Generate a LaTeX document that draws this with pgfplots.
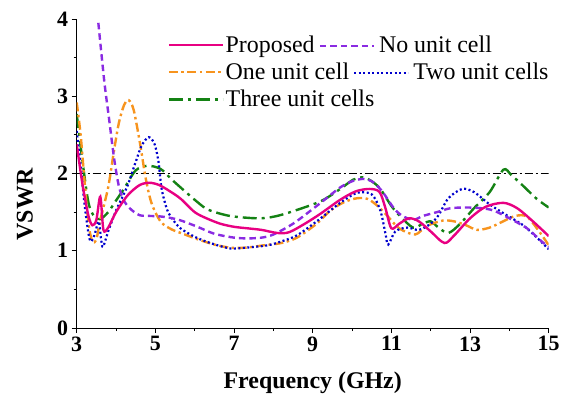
\documentclass[border=0pt]{standalone}
\usepackage{fontspec}
\setmainfont{Liberation Serif}
\usepackage{pgfplots}
\pgfplotsset{compat=1.18}

\definecolor{cProp}{RGB}{232,0,130}
\definecolor{cNone}{RGB}{138,43,226}
\definecolor{cOne}{RGB}{247,148,30}
\definecolor{cTwo}{RGB}{0,0,205}
\definecolor{cThree}{RGB}{20,130,20}

\tikzset{
  sProp/.style={cProp, line width=2.4bp, solid},
  sNone/.style={cNone, line width=2.4bp, dash pattern=on 6.5bp off 4bp},
  sOne/.style={cOne, line width=2.4bp, dash pattern=on 9bp off 3.5bp on 2.5bp off 3.5bp},
  sTwo/.style={cTwo, line width=2.2bp, dash pattern=on 2bp off 2.5bp},
  sThree/.style={cThree, line width=2.4bp, dash pattern=on 14bp off 5bp on 3bp off 5bp},
}
% inline legend sample for the second column
\newcommand{\samp}[1]{\tikz[baseline=-0.6ex]\draw[#1] (0,0) -- (54bp,0);}

\begin{document}
\begin{tikzpicture}
\begin{axis}[
  at={(0,0)}, anchor=south west,
  scale only axis, width=472bp, height=309bp,
  xmin=3, xmax=15, ymin=0, ymax=4,
  axis lines*=left,
  axis line style={line width=0.8bp},
  xtick={3,5,...,15}, minor x tick num=1,
  ytick={0,1,2,3,4}, minor y tick num=1,
  tick align=outside,
  major tick length=5bp, minor tick length=3bp,
  tick style={line width=0.8bp, black},
  /pgf/number format/assume math mode=true,
  ticklabel style={font=\fontsize{22}{24}\selectfont\bfseries},
  xlabel={Frequency (GHz)},
  ylabel={VSWR},
  label style={font=\fontsize{24}{28}\selectfont\bfseries},
  xlabel style={at={(axis description cs:0.5,-0.178)}, anchor=center},
  ylabel style={at={(axis description cs:-0.11,0.40)}, anchor=center, rotate=0},
  clip=true,
  legend image code/.code={\draw[#1] (0,0) -- (54bp,0);},
  legend cell align=left,
  legend style={draw=none, fill=none, at={(axis cs:5.31,3.80)}, anchor=north west,
    font=\fontsize{24}{27}\selectfont, inner sep=0pt, row sep=6bp,
    nodes={inner sep=1.5bp}},
]

% VSWR = 2 reference
\addplot[black, line width=1.1bp, dash pattern=on 8bp off 3bp on 2bp off 3bp, forget plot]
  coordinates {(3,2) (15,2)};

\addplot[sThree, smooth, tension=0.5, forget plot] coordinates {
(3,2.77) (3.15,2.15) (3.3,1.62) (3.45,1.44) (3.6,1.41) (3.8,1.50) (4.0,1.65) (4.2,1.80)
(4.5,2.04) (4.8,2.10) (5.13,2.06) (5.4,1.93) (5.64,1.82) (6.07,1.63) (6.35,1.53) (6.9,1.45)
(7.6,1.42) (8.0,1.44) (8.43,1.50) (9.2,1.64) (9.7,1.80) (10.03,1.92) (10.28,1.95) (10.5,1.90)
(10.72,1.80) (11.0,1.58) (11.22,1.45) (11.55,1.30) (11.8,1.35) (12.0,1.38) (12.2,1.30)
(12.45,1.23) (12.75,1.35) (13.1,1.55) (13.5,1.76) (13.85,2.05) (14.05,1.98) (14.35,1.84)
(14.7,1.67) (15,1.56)};

\addplot[sOne, smooth, tension=0.5, forget plot] coordinates {
(3,2.92) (3.1,2.5) (3.2,1.9) (3.3,1.35) (3.4,1.12) (3.5,1.15) (3.6,1.40) (3.8,1.82)
(3.95,2.3) (4.07,2.65) (4.2,2.88) (4.32,2.95) (4.45,2.82) (4.62,2.36) (4.75,1.95) (4.9,1.62)
(5.13,1.38) (5.4,1.28) (5.7,1.22) (6.07,1.15) (6.5,1.08) (6.9,1.04) (7.3,1.04) (7.75,1.07)
(8.2,1.10) (8.6,1.17) (9.1,1.35) (9.45,1.52) (9.8,1.63) (10.13,1.68) (10.4,1.67) (10.65,1.58)
(10.9,1.45) (11.2,1.29) (11.6,1.21) (11.9,1.32) (12.3,1.39) (12.6,1.38) (12.9,1.33)
(13.18,1.27) (13.5,1.30) (13.8,1.37) (14.15,1.45) (14.45,1.44) (14.8,1.22) (15,1.07)};

\addplot[sTwo, smooth, tension=0.5, forget plot] coordinates {
(3,2.55) (3.1,2.1) (3.2,1.6) (3.3,1.22) (3.36,1.12) (3.45,1.20) (3.56,1.38) (3.62,1.15)
(3.67,1.05) (3.8,1.25) (4.0,1.52) (4.29,1.84) (4.5,2.15) (4.65,2.36) (4.83,2.47) (4.98,2.38)
(5.08,2.15) (5.16,1.80) (5.3,1.53) (5.45,1.40) (5.64,1.29) (6.0,1.18) (6.4,1.10) (6.9,1.03)
(7.3,1.04) (7.85,1.07) (8.2,1.12) (8.6,1.20) (9.1,1.38) (9.7,1.62) (10.13,1.75) (10.5,1.73)
(10.72,1.52) (10.85,1.22) (10.92,1.08) (11.1,1.25) (11.4,1.30) (11.7,1.27) (12.0,1.35)
(12.2,1.46) (12.45,1.68) (12.8,1.80) (13.1,1.76) (13.5,1.60) (13.9,1.47) (14.35,1.33)
(14.7,1.17) (15,1.02)};

\addplot[sNone, smooth, tension=0.5, forget plot] coordinates {
(3.55,3.95) (3.7,3.2) (3.82,2.72) (3.95,2.2) (4.07,1.84) (4.2,1.65) (4.37,1.54) (4.6,1.46)
(4.9,1.45) (5.2,1.44) (5.6,1.40) (6.07,1.31) (6.5,1.22) (7.0,1.17) (7.35,1.16) (7.7,1.17)
(8.0,1.21) (8.5,1.35) (9.0,1.54) (9.4,1.70) (9.7,1.82) (10.0,1.90) (10.28,1.93) (10.5,1.90)
(10.75,1.78) (11.05,1.56) (11.25,1.46) (11.55,1.40) (11.8,1.45) (12.16,1.50) (12.5,1.55)
(12.9,1.56) (13.3,1.55) (13.6,1.52) (14.0,1.42) (14.45,1.29) (14.8,1.13) (15,1.05)};

\addplot[sProp, smooth, tension=0.5] coordinates {
(3,2.38) (3.15,1.85) (3.3,1.45) (3.4,1.33) (3.5,1.40) (3.6,1.70) (3.68,1.27) (3.8,1.30)
(4.0,1.50) (4.3,1.72) (4.6,1.85) (4.85,1.88) (5.1,1.85) (5.4,1.76) (5.65,1.67) (6.0,1.50)
(6.3,1.42) (6.65,1.35) (7.0,1.31) (7.35,1.29) (7.7,1.27) (8.1,1.23) (8.4,1.24) (8.8,1.35)
(9.2,1.48) (9.7,1.66) (10.1,1.77) (10.45,1.80) (10.7,1.76) (10.85,1.55) (11.0,1.29)
(11.2,1.35) (11.45,1.42) (11.7,1.38) (12.0,1.25) (12.35,1.10) (12.6,1.20) (13.0,1.42)
(13.4,1.57) (13.85,1.62) (14.2,1.55) (14.6,1.38) (15,1.19)};
\addlegendentry{Proposed\,\samp{sNone}\,No unit cell}

\addlegendimage{sOne}
\addlegendentry{One unit cell\,\samp{sTwo}\,Two unit cells}
\addlegendimage{sThree}
\addlegendentry{Three unit cells}

\end{axis}
\path (-76.7bp,-75bp) rectangle (489.3bp,328bp);
\end{tikzpicture}
\end{document}
